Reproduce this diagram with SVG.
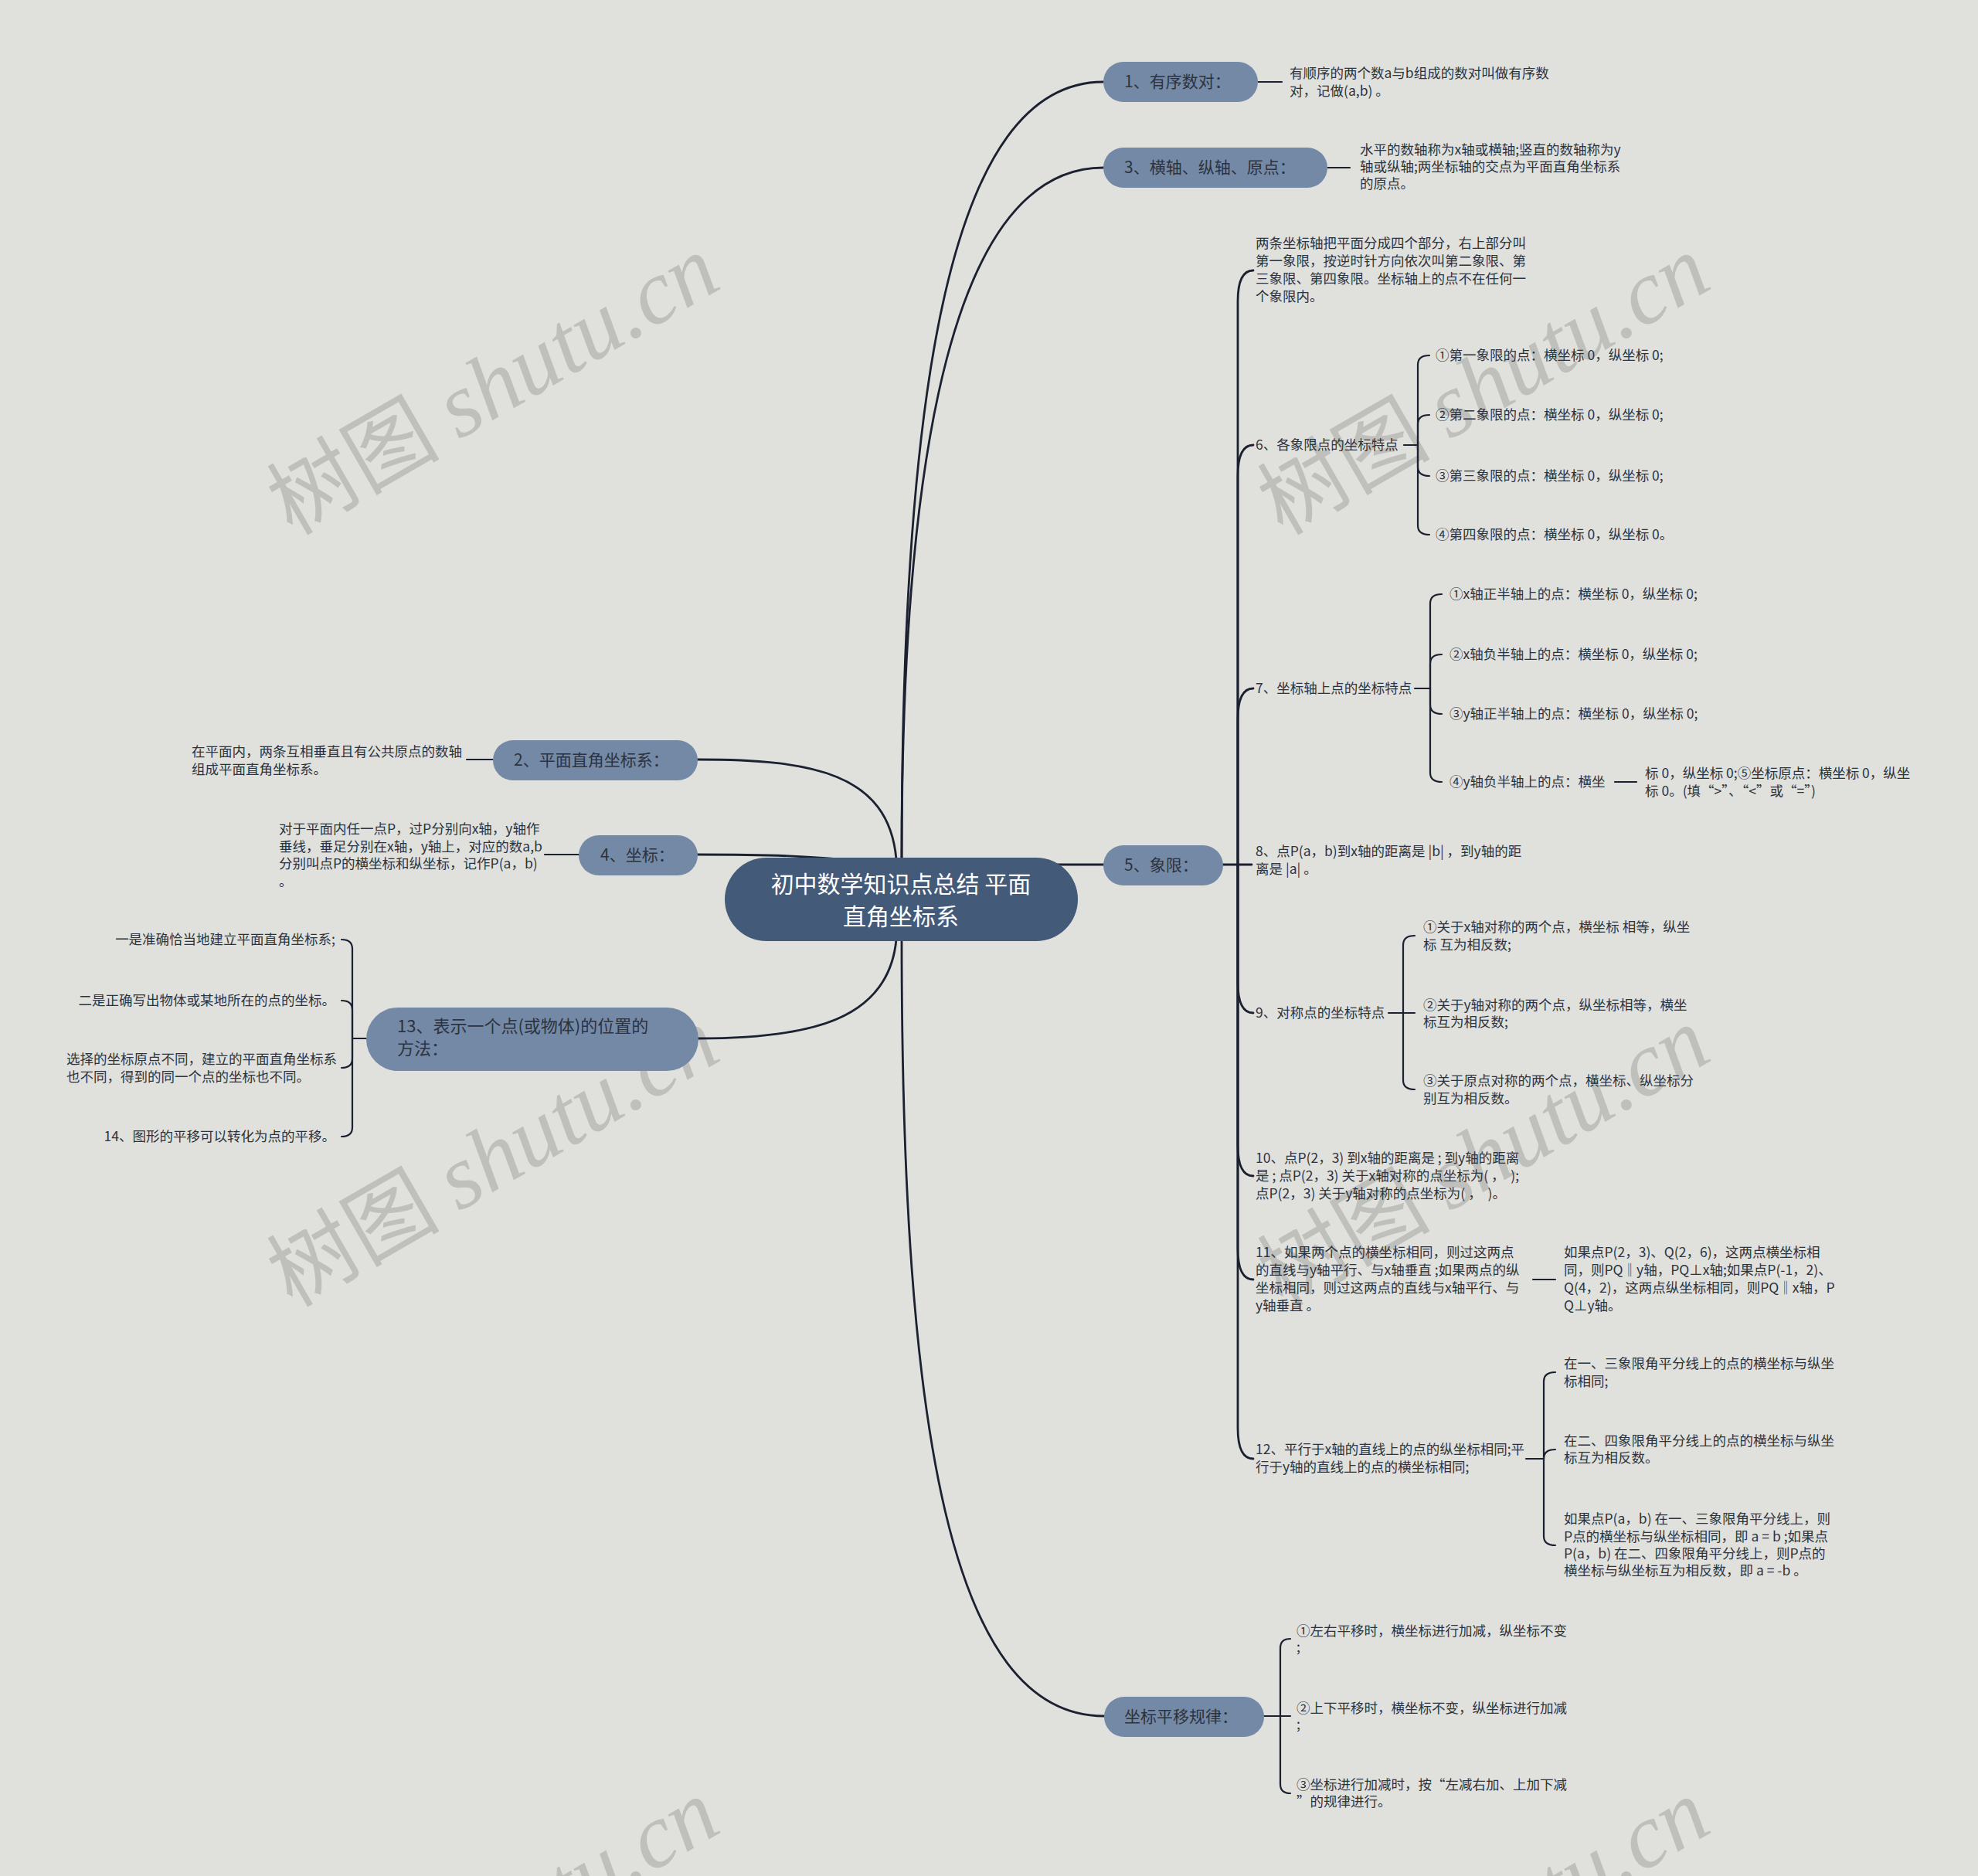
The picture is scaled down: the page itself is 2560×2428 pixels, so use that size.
<svg xmlns="http://www.w3.org/2000/svg" width="2560" height="2428" viewBox="0 0 2560 2428">
<style>
.bg{fill:#e0e1dc}
.wm{fill:#bfc0bc}
.wmc{font-family:"Noto Sans CJK SC","Noto Sans",sans-serif;font-size:112px}
.wml{font-family:"Liberation Serif",serif;font-style:italic;font-size:118px}
.ln{fill:none;stroke:#1b2130;stroke-width:2.2;stroke-linecap:round}
.mn{stroke-width:2.8}
.node{fill:#7489a6}
.root{fill:#445a79}
.nt{font-family:"Noto Sans CJK SC","Noto Sans",sans-serif;font-size:21px;fill:#2c333e}
.rt{font-family:"Noto Sans CJK SC","Noto Sans",sans-serif;font-size:30px;fill:#ffffff;text-anchor:middle}
.t{font-family:"Noto Sans CJK SC","Noto Sans",sans-serif;font-size:17.5px;fill:#2c333e;white-space:pre}
.e{text-anchor:end}
</style>
<rect class="bg" x="0" y="0" width="2560" height="2428"/>
<g id="watermark" class="wm">
<text transform="rotate(-30 378 694)" x="378" y="694"><tspan class="wmc">树图 </tspan><tspan class="wml">shutu.cn</tspan></text>
<text transform="rotate(-30 1660 694)" x="1660" y="694"><tspan class="wmc">树图 </tspan><tspan class="wml">shutu.cn</tspan></text>
<text transform="rotate(-30 378 1693)" x="378" y="1693"><tspan class="wmc">树图 </tspan><tspan class="wml">shutu.cn</tspan></text>
<text transform="rotate(-30 1660 1693)" x="1660" y="1693"><tspan class="wmc">树图 </tspan><tspan class="wml">shutu.cn</tspan></text>
<text transform="rotate(-30 378 2692)" x="378" y="2692"><tspan class="wmc">树图 </tspan><tspan class="wml">shutu.cn</tspan></text>
<text transform="rotate(-30 1660 2692)" x="1660" y="2692"><tspan class="wmc">树图 </tspan><tspan class="wml">shutu.cn</tspan></text>
</g>
<g id="connectors">
<path class="ln mn" d="M1167,1112 C1167,500 1230,106 1428,106"/>
<path class="ln mn" d="M1167,1112 C1167,580 1235,217 1428,217"/>
<path class="ln mn" d="M1360,1119 H1428"/>
<path class="ln mn" d="M1167,1216 C1167,1850 1230,2221 1429,2221"/>
<path class="ln mn" d="M1160,1112 C1150,1000 1050,983 903,983"/>
<path class="ln mn" d="M1120,1115 C1050,1108 1000,1106 903,1106"/>
<path class="ln mn" d="M1160,1216 C1150,1320 1050,1344 903,1344"/>
<path class="ln" d="M1628,106 H1659"/>
<path class="ln" d="M1718,217 H1747"/>
<path class="ln" d="M638,983 H604"/>
<path class="ln" d="M749,1106 H705"/>
<path class="ln mn" d="M1583,1119 H1620"/>
<path class="ln mn" d="M1602,1119 V390 Q1602,350 1622,350"/>
<path class="ln mn" d="M1602,1119 V616 Q1602,576 1622,576"/>
<path class="ln mn" d="M1602,1119 V931 Q1602,891 1622,891"/>
<path class="ln mn" d="M1602,1119 V1271 Q1602,1311 1622,1311"/>
<path class="ln mn" d="M1602,1119 V1482 Q1602,1522 1622,1522"/>
<path class="ln mn" d="M1602,1119 V1616 Q1602,1656 1622,1656"/>
<path class="ln mn" d="M1602,1119 V1848 Q1602,1888 1622,1888"/>
<path class="ln" d="M1817,576 H1835"/>
<path class="ln" d="M1835,576 V472 Q1835,460 1850,460"/>
<path class="ln" d="M1835,576 V549 Q1835,537 1850,537"/>
<path class="ln" d="M1835,576 V604 Q1835,616 1850,616"/>
<path class="ln" d="M1835,576 V680 Q1835,692 1850,692"/>
<path class="ln" d="M1831,891 H1851"/>
<path class="ln" d="M1851,891 V781 Q1851,769 1866,769"/>
<path class="ln" d="M1851,891 V859 Q1851,847 1866,847"/>
<path class="ln" d="M1851,891 V912 Q1851,924 1866,924"/>
<path class="ln" d="M1851,891 V1000 Q1851,1012 1866,1012"/>
<path class="ln" d="M2090,1012 H2118"/>
<path class="ln" d="M1797,1311 H1831"/>
<path class="ln" d="M1816,1311 V1223 Q1816,1211 1831,1211"/>
<path class="ln" d="M1816,1311 V1398 Q1816,1410 1831,1410"/>
<path class="ln" d="M1984,1656 H2013"/>
<path class="ln" d="M1975,1888 H1998"/>
<path class="ln" d="M1998,1888 V1788 Q1998,1776 2013,1776"/>
<path class="ln" d="M1998,1888 Q1998,1876 2013,1876"/>
<path class="ln" d="M1998,1888 V1988 Q1998,2000 2013,2000"/>
<path class="ln" d="M1636,2221 H1670"/>
<path class="ln" d="M1657,2221 V2133 Q1657,2121 1670,2121"/>
<path class="ln" d="M1657,2221 V2309 Q1657,2321 1670,2321"/>
<path class="ln" d="M474,1344 H456"/>
<path class="ln" d="M456,1344 V1228 Q456,1216 442,1216"/>
<path class="ln" d="M456,1344 V1307 Q456,1295 442,1295"/>
<path class="ln" d="M456,1344 V1370 Q456,1382 442,1382"/>
<path class="ln" d="M456,1344 V1459 Q456,1471 442,1471"/>
</g>
<g id="root">
<rect class="root" x="938" y="1110" width="457" height="108" rx="54"/>
<text class="rt" x="1166" y="1155">初中数学知识点总结 平面</text>
<text class="rt" x="1166" y="1197">直角坐标系</text>
</g>
<g id="n1">
<rect class="node" x="1428" y="80" width="200" height="52" rx="26"/>
<text class="nt" x="1455" y="113">1、有序数对：</text>
<text class="t" x="1669" y="101">有顺序的两个数a与b组成的数对叫做有序数</text>
<text class="t" x="1669" y="124">对，记做(a,b) 。</text>
</g>
<g id="n3">
<rect class="node" x="1428" y="191" width="290" height="52" rx="26"/>
<text class="nt" x="1455" y="224">3、横轴、纵轴、原点：</text>
<text class="t" x="1760" y="200">水平的数轴称为x轴或横轴;竖直的数轴称为y</text>
<text class="t" x="1760" y="222">轴或纵轴;两坐标轴的交点为平面直角坐标系</text>
<text class="t" x="1760" y="244">的原点。</text>
</g>
<g id="n5">
<rect class="node" x="1428" y="1094" width="155" height="52" rx="26"/>
<text class="nt" x="1455" y="1127">5、象限：</text>
</g>
<g id="n5a">
<text class="t" x="1625" y="321">两条坐标轴把平面分成四个部分，右上部分叫</text>
<text class="t" x="1625" y="344">第一象限，按逆时针方向依次叫第二象限、第</text>
<text class="t" x="1625" y="367">三象限、第四象限。坐标轴上的点不在任何一</text>
<text class="t" x="1625" y="390">个象限内。</text>
</g>
<g id="n6">
<text class="t" x="1625" y="582">6、各象限点的坐标特点</text>
<text class="t" x="1858" y="466">①第一象限的点：横坐标 0，纵坐标 0;</text>
<text class="t" x="1858" y="543">②第二象限的点：横坐标 0，纵坐标 0;</text>
<text class="t" x="1858" y="622">③第三象限的点：横坐标 0，纵坐标 0;</text>
<text class="t" x="1858" y="698">④第四象限的点：横坐标 0，纵坐标 0。</text>
</g>
<g id="n7">
<text class="t" x="1625" y="897">7、坐标轴上点的坐标特点</text>
<text class="t" x="1876" y="775">①x轴正半轴上的点：横坐标 0，纵坐标 0;</text>
<text class="t" x="1876" y="853">②x轴负半轴上的点：横坐标 0，纵坐标 0;</text>
<text class="t" x="1876" y="930">③y轴正半轴上的点：横坐标 0，纵坐标 0;</text>
<text class="t" x="1876" y="1018">④y轴负半轴上的点：横坐</text>
<text class="t" x="2129" y="1007">标 0，纵坐标 0;⑤坐标原点：横坐标 0，纵坐</text>
<text class="t" x="2129" y="1030">标 0。(填“&gt;”、“&lt;”或“=”)</text>
</g>
<g id="n8">
<text class="t" x="1625" y="1108">8、点P(a，b)到x轴的距离是 |b| ，到y轴的距</text>
<text class="t" x="1625" y="1131">离是 |a| 。</text>
</g>
<g id="n9">
<text class="t" x="1625" y="1317">9、对称点的坐标特点</text>
<text class="t" x="1842" y="1206">①关于x轴对称的两个点，横坐标 相等，纵坐</text>
<text class="t" x="1842" y="1229">标 互为相反数;</text>
<text class="t" x="1842" y="1307">②关于y轴对称的两个点，纵坐标相等，横坐</text>
<text class="t" x="1842" y="1329">标互为相反数;</text>
<text class="t" x="1842" y="1405">③关于原点对称的两个点，横坐标、纵坐标分</text>
<text class="t" x="1842" y="1428">别互为相反数。</text>
</g>
<g id="n10">
<text class="t" x="1625" y="1505">10、点P(2，3) 到x轴的距离是 ; 到y轴的距离</text>
<text class="t" x="1625" y="1528">是 ; 点P(2，3) 关于x轴对称的点坐标为( ，  );</text>
<text class="t" x="1625" y="1551">点P(2，3) 关于y轴对称的点坐标为( ，  )。</text>
</g>
<g id="n11">
<text class="t" x="1625" y="1627">11、如果两个点的横坐标相同，则过这两点</text>
<text class="t" x="1625" y="1650">的直线与y轴平行、与x轴垂直 ;如果两点的纵</text>
<text class="t" x="1625" y="1673">坐标相同，则过这两点的直线与x轴平行、与</text>
<text class="t" x="1625" y="1696">y轴垂直 。</text>
<text class="t" x="2024" y="1627">如果点P(2，3)、Q(2，6)，这两点横坐标相</text>
<text class="t" x="2024" y="1650">同，则PQ‖y轴，PQ⊥x轴;如果点P(-1，2)、</text>
<text class="t" x="2024" y="1673">Q(4，2)，这两点纵坐标相同，则PQ‖x轴，P</text>
<text class="t" x="2024" y="1696">Q⊥y轴。</text>
</g>
<g id="n12">
<text class="t" x="1625" y="1882">12、平行于x轴的直线上的点的纵坐标相同;平</text>
<text class="t" x="1625" y="1905">行于y轴的直线上的点的横坐标相同;</text>
<text class="t" x="2024" y="1771">在一、三象限角平分线上的点的横坐标与纵坐</text>
<text class="t" x="2024" y="1794">标相同;</text>
<text class="t" x="2024" y="1871">在二、四象限角平分线上的点的横坐标与纵坐</text>
<text class="t" x="2024" y="1893">标互为相反数。</text>
<text class="t" x="2024" y="1972">如果点P(a，b) 在一、三象限角平分线上，则</text>
<text class="t" x="2024" y="1995">P点的横坐标与纵坐标相同，即 a = b ;如果点</text>
<text class="t" x="2024" y="2017">P(a，b) 在二、四象限角平分线上，则P点的</text>
<text class="t" x="2024" y="2039">横坐标与纵坐标互为相反数，即 a = -b 。</text>
</g>
<g id="n-shift">
<rect class="node" x="1429" y="2196" width="207" height="52" rx="26"/>
<text class="nt" x="1455" y="2229">坐标平移规律：</text>
<text class="t" x="1678" y="2117">①左右平移时，横坐标进行加减，纵坐标不变</text>
<text class="t" x="1678" y="2138">;</text>
<text class="t" x="1678" y="2217">②上下平移时，横坐标不变，纵坐标进行加减</text>
<text class="t" x="1678" y="2238">;</text>
<text class="t" x="1678" y="2316">③坐标进行加减时，按“左减右加、上加下减</text>
<text class="t" x="1678" y="2338">”的规律进行。</text>
</g>
<g id="n2">
<rect class="node" x="638" y="958" width="265" height="52" rx="26"/>
<text class="nt" x="665" y="991">2、平面直角坐标系：</text>
<text class="t" x="248" y="979">在平面内，两条互相垂直且有公共原点的数轴</text>
<text class="t" x="248" y="1002">组成平面直角坐标系。</text>
</g>
<g id="n4">
<rect class="node" x="749" y="1081" width="154" height="52" rx="26"/>
<text class="nt" x="777" y="1114">4、坐标：</text>
<text class="t" x="361" y="1079">对于平面内任一点P，过P分别向x轴，y轴作</text>
<text class="t" x="361" y="1102">垂线，垂足分别在x轴，y轴上，对应的数a,b</text>
<text class="t" x="361" y="1124">分别叫点P的横坐标和纵坐标，记作P(a，b)</text>
<text class="t" x="361" y="1147">。</text>
</g>
<g id="n13">
<rect class="node" x="474" y="1304" width="430" height="82" rx="41"/>
<text class="nt" x="514" y="1336" style="font-size:22px">13、表示一个点(或物体)的位置的</text>
<text class="nt" x="514" y="1365" style="font-size:22px">方法：</text>
<text class="t e" x="434" y="1222">一是准确恰当地建立平面直角坐标系;</text>
<text class="t e" x="434" y="1301">二是正确写出物体或某地所在的点的坐标。</text>
<text class="t" x="86" y="1377">选择的坐标原点不同，建立的平面直角坐标系</text>
<text class="t" x="86" y="1400">也不同，得到的同一个点的坐标也不同。</text>
<text class="t e" x="434" y="1477">14、图形的平移可以转化为点的平移。</text>
</g>
</svg>
